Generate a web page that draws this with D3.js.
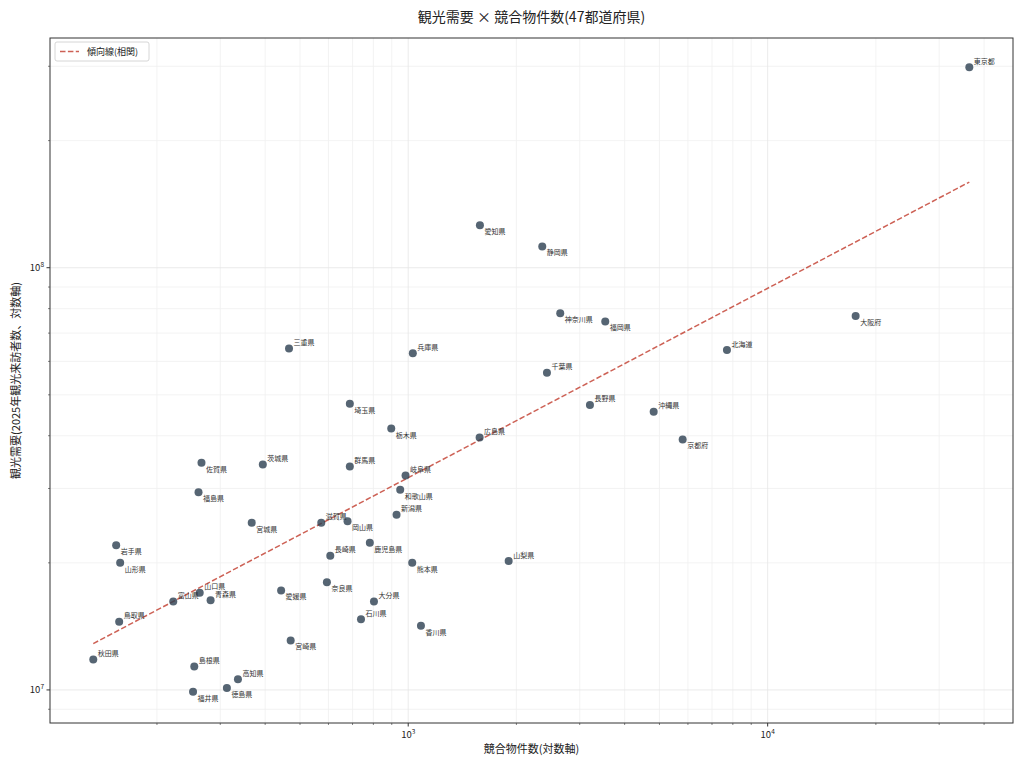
<!DOCTYPE html>
<html><head><meta charset="utf-8">
<script src="https://cdn.jsdelivr.net/npm/d3@7/dist/d3.min.js"></script>
<style>
body{margin:0;background:#fff;}
text{font-family:"Noto Sans CJK JP","Noto Sans",sans-serif;}
</style></head>
<body><svg id="chart" width="1024" height="768"></svg>
<script>
const prefectures = ["東京都","愛知県","静岡県","神奈川県","福岡県","千葉県","長野県","沖縄県","京都府","北海道","大阪府","兵庫県","三重県","埼玉県","栃木県","広島県","岐阜県","和歌山県","新潟県","熊本県","山梨県","群馬県","茨城県","滋賀県","岡山県","鹿児島県","長崎県","奈良県","愛媛県","大分県","石川県","香川県","宮崎県","佐賀県","福島県","宮城県","岩手県","山形県","富山県","山口県","青森県","鳥取県","秋田県","島根県","高知県","徳島県","福井県"];
const competitors = [36390,1583,2360,2648,3533,2432,3203,4818,5801,7704,17570,1030,466,688,897,1580,983,950,928,1026,1903,688,394,573,678,782,607,594,443,803,739,1085,471,266,261,367,154,158,222,263,282,157,133,254,336,313,252];
const demand = [2.985e8,1.26e8,1.123e8,7.8e7,7.46e7,5.64e7,4.73e7,4.56e7,3.92e7,6.38e7,7.68e7,6.27e7,6.44e7,4.76e7,4.16e7,3.96e7,3.22e7,2.98e7,2.60e7,2.0e7,2.02e7,3.38e7,3.42e7,2.49e7,2.51e7,2.23e7,2.08e7,1.80e7,1.72e7,1.62e7,1.47e7,1.42e7,1.31e7,3.45e7,2.94e7,2.49e7,2.20e7,2.0e7,1.62e7,1.70e7,1.63e7,1.45e7,1.18e7,1.136e7,1.06e7,1.01e7,9.9e6];
const labelAbove = [1,0,0,0,0,1,1,1,0,1,0,1,1,0,0,1,1,0,1,0,1,1,1,1,0,0,1,0,0,1,1,0,0,0,0,0,0,0,1,1,1,1,1,1,1,0,0];
const xMajorTicks = [1e3,1e4];
const yMajorTicks = [1e7,1e8];
const titleText = "観光需要 × 競合物件数(47都道府県)";
const xLabel = "競合物件数(対数軸)";
const yLabel = "観光需要(2025年観光来訪者数、対数軸)";
const legendLabel = "傾向線(相関)";

const W=1024,H=768, m={l:50,t:38,r:11,b:45};
const svg=d3.select("#chart");
const x=d3.scaleLog().domain([100.8,48140]).range([m.l,W-m.r]);
const y=d3.scaleLog().domain([8.35e6,3.5e8]).range([H-m.b,m.t]);

function minorTicks(scale){
  const [a,b]=scale.domain(); const out=[];
  for(let e=Math.floor(Math.log10(a)); e<=Math.ceil(Math.log10(b)); e++){
    for(let k=2;k<=9;k++){const v=k*Math.pow(10,e); if(v>=a&&v<=b) out.push(v);}
  }
  return out;
}
const xMinor=minorTicks(x), yMinor=minorTicks(y);

// grid
const g=svg.append("g");
g.selectAll(".gxm").data(xMinor).join("line").attr("x1",d=>x(d)).attr("x2",d=>x(d)).attr("y1",m.t).attr("y2",H-m.b).attr("stroke","#f0f0f0").attr("stroke-width",0.8);
g.selectAll(".gym").data(yMinor).join("line").attr("y1",d=>y(d)).attr("y2",d=>y(d)).attr("x1",m.l).attr("x2",W-m.r).attr("stroke","#f0f0f0").attr("stroke-width",0.8);
g.selectAll(".gxM").data(xMajorTicks).join("line").attr("x1",d=>x(d)).attr("x2",d=>x(d)).attr("y1",m.t).attr("y2",H-m.b).attr("stroke","#e6e6e6").attr("stroke-width",0.8);
g.selectAll(".gyM").data(yMajorTicks).join("line").attr("y1",d=>y(d)).attr("y2",d=>y(d)).attr("x1",m.l).attr("x2",W-m.r).attr("stroke","#e6e6e6").attr("stroke-width",0.8);

// trend (least squares in log space)
const lx=competitors.map(Math.log10), ly=demand.map(Math.log10);
const mx=d3.mean(lx), my=d3.mean(ly);
const slope=d3.sum(lx.map((v,i)=>(v-mx)*(ly[i]-my)))/d3.sum(lx.map(v=>(v-mx)**2));
const icpt=my-slope*mx;
const xr=d3.extent(competitors);
const trend=xr.map(v=>[v,Math.pow(10,icpt+slope*Math.log10(v))]);
svg.append("path").datum(trend).attr("d",d3.line().x(d=>x(d[0])).y(d=>y(d[1])))
  .attr("fill","none").attr("stroke","#c0392b").attr("stroke-opacity",0.8).attr("stroke-width",1.5).attr("stroke-dasharray","5.5,2.4");

// points
const data=prefectures.map((p,i)=>({p,x:competitors[i],y:demand[i],up:labelAbove[i]}));
svg.selectAll("circle.pt").data(data).join("circle").attr("class","pt")
  .attr("cx",d=>x(d.x)).attr("cy",d=>y(d.y)).attr("r",4).attr("fill","#2c3e50").attr("fill-opacity",0.8);
svg.selectAll("text.lbl").data(data).join("text").attr("class","lbl")
  .attr("x",d=>x(d.x)+4.5).attr("y",d=>y(d.y)+(d.up?-3.5:9))
  .attr("font-size",7).attr("fill","#333").text(d=>d.p);

// frame
svg.append("rect").attr("x",m.l).attr("y",m.t).attr("width",W-m.l-m.r).attr("height",H-m.t-m.b)
  .attr("fill","none").attr("stroke","#333").attr("stroke-width",1);

// ticks
const ax=svg.append("g");
ax.selectAll(".xt").data(xMajorTicks).join("line").attr("x1",d=>x(d)).attr("x2",d=>x(d)).attr("y1",H-m.b).attr("y2",H-m.b+3.5).attr("stroke","#333");
ax.selectAll(".xtm").data(xMinor).join("line").attr("x1",d=>x(d)).attr("x2",d=>x(d)).attr("y1",H-m.b).attr("y2",H-m.b+2).attr("stroke","#333").attr("stroke-width",0.6);
ax.selectAll(".yt").data(yMajorTicks).join("line").attr("y1",d=>y(d)).attr("y2",d=>y(d)).attr("x1",m.l).attr("x2",m.l-3.5).attr("stroke","#333");
ax.selectAll(".ytm").data(yMinor).join("line").attr("y1",d=>y(d)).attr("y2",d=>y(d)).attr("x1",m.l).attr("x2",m.l-2).attr("stroke","#333").attr("stroke-width",0.6);
function pow(sel){
  sel.each(function(d){const t=d3.select(this); const e=Math.round(Math.log10(d));
    t.append("tspan").text("10"); t.append("tspan").attr("dy",-4).attr("font-size",6.5).text(e);});
}
ax.selectAll(".xl").data(xMajorTicks).join("text").attr("x",d=>x(d)).attr("y",H-m.b+15).attr("text-anchor","middle").attr("font-size",9.5).attr("fill","#222").call(pow);
ax.selectAll(".yl").data(yMajorTicks).join("text").attr("x",m.l-6).attr("y",d=>y(d)+3.5).attr("text-anchor","end").attr("font-size",9.5).attr("fill","#222").call(pow);

// labels
svg.append("text").attr("x",(m.l+W-m.r)/2).attr("y",22).attr("text-anchor","middle").attr("font-size",14).attr("fill","#222").text(titleText);
svg.append("text").attr("x",(m.l+W-m.r)/2).attr("y",753).attr("text-anchor","middle").attr("font-size",11).attr("fill","#222").text(xLabel);
svg.append("text").attr("transform",`translate(20,${(m.t+H-m.b)/2}) rotate(-90)`).attr("text-anchor","middle").attr("font-size",11).attr("fill","#222").text(yLabel);

// legend
const lg=svg.append("g");
lg.append("rect").attr("x",55).attr("y",42).attr("width",94).attr("height",19).attr("rx",2).attr("fill","#fff").attr("fill-opacity",0.8).attr("stroke","#ccc").attr("stroke-width",0.8);
lg.append("line").attr("x1",60).attr("x2",79).attr("y1",51.5).attr("y2",51.5).attr("stroke","#c0392b").attr("stroke-opacity",0.8).attr("stroke-width",1.5).attr("stroke-dasharray","5.5,2.4");
lg.append("text").attr("x",87).attr("y",55).attr("font-size",9).attr("fill","#222").text(legendLabel);
</script></body></html>
